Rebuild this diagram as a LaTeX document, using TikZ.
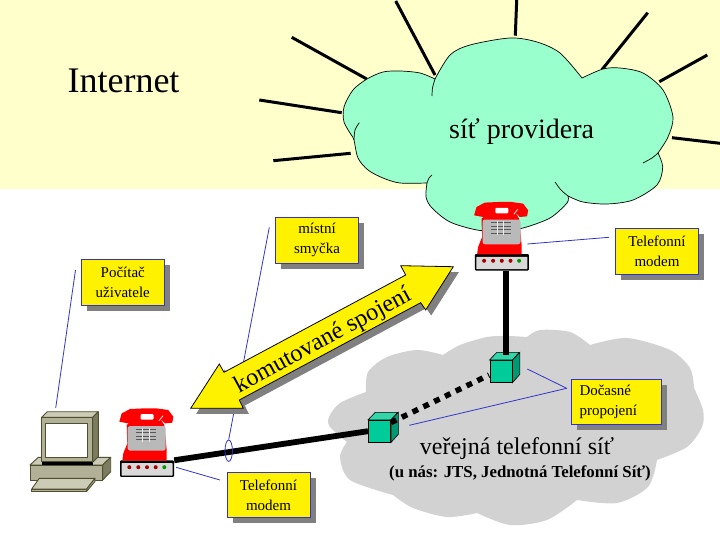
\documentclass[tikz,border=0pt]{standalone}
\usepackage{fontspec}
\setmainfont{Liberation Serif}
\usetikzlibrary{shapes.geometric,shadows}

\definecolor{skypale}{HTML}{FFFFCC}
\definecolor{provmint}{HTML}{99FFCC}
\definecolor{netgray}{HTML}{D2D2D2}
\definecolor{noteblue}{HTML}{3333CC}
\definecolor{shadegray}{HTML}{808080}
\definecolor{cubefront}{HTML}{00CC99}
\definecolor{cubetop}{HTML}{33D6A8}
\definecolor{cubeside}{HTML}{009973}
\definecolor{pcbody}{HTML}{B2B096}
\definecolor{pclight}{HTML}{CCCCB6}
\definecolor{pcside}{HTML}{7C7C60}
\definecolor{pcline}{HTML}{4F4F30}

\tikzset{
  ray/.style={line width=3pt},
  provcloud/.style={draw=black,line width=0.7pt,fill=provmint},
  hookline/.style={draw=black,line width=0.7pt},
  netcloud/.style={fill=netgray},
  cable/.style={line width=5.8pt},
  dotcable/.style={line width=5.5pt,dash pattern=on 6pt off 6pt},
  leader/.style={draw=noteblue,line width=0.8pt},
  notebox/.style={draw=noteblue,line width=0.9pt,fill=yellow,minimum width=83pt,
    minimum height=45.5pt,inner sep=0pt,align=center,font=\fontsize{15}{20}\selectfont,
    drop shadow={shadow xshift=5.5pt,shadow yshift=-5.5pt,opacity=1,fill=shadegray}},
  bigarrow/.style={draw=black,line width=0.8pt,fill=yellow,
    drop shadow={shadow xshift=5.5pt,shadow yshift=-5.5pt,opacity=1,fill=shadegray}},
  cubebox/.style={draw=black,line width=0.6pt,fill=cubefront,minimum width=22.4pt,
    minimum height=22pt,inner sep=0pt},
  modembox/.style={fill=black,rounded corners=1pt,minimum width=54pt,minimum height=16.5pt,inner sep=0pt},
  pcpart/.style={draw=pcline,line width=0.9pt,line join=round},
  telphone/.pic={
    \fill[red] (-27.7,-47) -- (-25.3,-55.3) -- (-17,-59.7) -- (-3.7,-60.3) -- (9.7,-60.3)
      -- (21.3,-58.7) -- (26.3,-52) -- (25.3,-46) -- (18,-45.3) -- (13,-50.3) -- (17.3,-43.7)
      -- (19.7,-18.7) -- (19.7,-8) -- (-24.7,-8) -- (-23.7,-15.3) -- (-19.7,-25.3) -- (-20.3,-43.7)
      -- (-13.7,-48.7) -- (-18.7,-45.3) -- cycle;
    \fill[white,rounded corners=1pt] (-6.5,-54.5) rectangle (6.5,-49);
    \draw[white,line width=0.7pt] (12,-48) -- (16,-53);
    \fill[gray!55,rounded corners=2.5pt] (-19.3,-42.7) rectangle (18.7,-18);
    \foreach \rowy in {-39.5,-36,-32.5,-29}
      \draw[black!65,line width=1.3pt] (-11,\rowy) -- (8.7,\rowy);
    \foreach \colx in {-4.5,2}
      \draw[white!85!gray,line width=0.8pt] (\colx,-41) -- (\colx,-27);
    \fill[gray!30,rounded corners=0.5pt] (-25.5,-5.5) rectangle (25.5,6.8);
    \foreach \ledx in {-17.7,-8.7,0,8.7}
      \fill[red!65!black] (\ledx,-1.5) circle (2pt);
    \fill[green!60!black] (17.3,-1.5) circle (2pt);
  }
}

\newcommand{\cubefaces}[1]{
  \filldraw[fill=cubetop,draw=black,line width=0.6pt] (#1.north west) -- ++(7.3,-7.6) -- ++(22.4,0) -- (#1.north east) -- cycle;
  \filldraw[fill=cubeside,draw=black,line width=0.6pt] (#1.north east) -- ++(7.3,-7.6) -- ++(0,22) -- (#1.south east) -- cycle;
}

\begin{document}
\begin{tikzpicture}[x=1pt,y=-1pt]

  \fill[white] (0,0) rectangle (720,540);
  \useasboundingbox (0,0) rectangle (720,540);
  \fill[skypale] (0,0) rectangle (720,189);

  \node[font=\fontsize{36}{36}\selectfont] (inet) at (123.5,81) {Internet};

  % rays round the provider
  \coordinate (r1a) at (395.7,1);     \coordinate (r1b) at (435,75);
  \coordinate (r2a) at (291.7,37.3);  \coordinate (r2b) at (366.7,79);
  \coordinate (r3a) at (259.3,100);   \coordinate (r3b) at (341.7,112.7);
  \coordinate (r4a) at (273.3,160.7); \coordinate (r4b) at (350.7,153.3);
  \coordinate (r5a) at (516.7,0);     \coordinate (r5b) at (515.3,35.7);
  \coordinate (r6a) at (647.7,12.7);  \coordinate (r6b) at (601.7,70);
  \coordinate (r7a) at (707.3,55);    \coordinate (r7b) at (659.3,81.7);
  \coordinate (r8a) at (672,137.7);   \coordinate (r8b) at (720,143.3);

  \draw[ray] (r1a) -- (r1b);
  \draw[ray] (r2a) -- (r2b);
  \draw[ray] (r3a) -- (r3b);
  \draw[ray] (r4a) -- (r4b);
  \draw[ray] (r5a) -- (r5b);
  \draw[ray] (r6a) -- (r6b);
  \draw[ray] (r7a) -- (r7b);
  \draw[ray] (r8a) -- (r8b);

  \path[provcloud]
    plot[smooth] coordinates {(352,136) (344,122) (344,107) (353,90) (367,79) (383,72) (400,71) (420,73) (435,79)}
    -- plot[smooth] coordinates {(435,79) (450,55) (470,45) (510,38) (537,42) (560,53) (582,78)}
    -- plot[smooth] coordinates {(582,78) (603,69) (620,68) (643,73) (663,90) (673,117) (668,137) (658,153)}
    -- plot[smooth] coordinates {(658,153) (662.7,167) (657,185) (633,200) (607,204) (583,202) (568,196)}
    -- plot[smooth] coordinates {(568,196) (567,203) (550,218) (523,228) (500,231) (477,230) (450,222) (432,208) (426,197) (427,183)}
    -- plot[smooth] coordinates {(427,183) (400,183) (383,178) (368,170) (358,158) (354,140) (352,136)}
    -- cycle;
  \draw[hookline] plot[smooth] coordinates {(435,79) (432.5,88) (432,96)};
  \draw[hookline] plot[smooth] coordinates {(658,153) (652,158) (643,163)};
  \draw[hookline] plot[smooth] coordinates {(568,196) (561,190) (555,182)};
  \draw[hookline] plot[smooth] coordinates {(427,183) (429,178) (432,175)};
  \draw[hookline] plot[smooth] coordinates {(354,140) (355,130) (359.3,122.7)};

  \node[font=\fontsize{28}{28}\selectfont] (prov) at (521.7,132) {síť providera};

  \path[netcloud]
    plot[smooth] coordinates {(347,442) (330,427) (329,417) (340,403) (366,392)}
    -- plot[smooth] coordinates {(366,392) (368,372) (387,357) (417,350) (443,355)}
    -- plot[smooth] coordinates {(443,355) (460,345) (487,337) (507,336) (527,337)}
    -- plot[smooth] coordinates {(527,337) (540,330) (570,332) (590,345)}
    -- plot[smooth] coordinates {(590,345) (627,338) (670,350) (690,368) (694,388)}
    -- plot[smooth] coordinates {(694,388) (703,410) (702,427) (687,447) (657,460)}
    -- plot[smooth] coordinates {(657,460) (648,487) (617,503) (577,500)}
    -- plot[smooth] coordinates {(577,500) (547,520) (510,525) (477,513)}
    -- plot[smooth] coordinates {(477,513) (447,517) (413,508) (393,495)}
    -- plot[smooth] coordinates {(393,495) (350,480) (340,457) (347,442)}
    -- cycle;

  \node[font=\fontsize{24}{24}\selectfont] (pubnet) at (517,449) {veřejná telefonní síť};
  \node[font=\bfseries\fontsize{16.8}{16.8}\selectfont] (pubnote) at (520,473) {(u nás: JTS, Jednotná Telefonní Síť)};

  % switches
  \node[cubebox] (swA) at (379.5,431.2) {};
  \cubefaces{swA}
  \node[cubebox] (swB) at (501,371.3) {};
  \cubefaces{swB}

  % computer
  \filldraw[pcpart,fill=pclight] (30,465) -- (38.3,457.3) -- (110.7,457.3) -- (102.7,465) -- cycle;
  \filldraw[pcpart,fill=pcside] (102.7,465) -- (110.7,457.3) -- (110.7,471.7) -- (102.7,480) -- cycle;
  \filldraw[pcpart,fill=pcbody] (30,465) rectangle (102.7,480);
  \fill[black] (41.7,461.7) rectangle (93,464.5);
  \filldraw[pcpart,fill=pclight] (41.7,417.3) -- (47.3,411.7) -- (98.3,411.7) -- (92.7,417.3) -- cycle;
  \filldraw[pcpart,fill=pcside] (92.7,417.3) -- (98.3,411.7) -- (98.3,456.7) -- (92.7,462.3) -- cycle;
  \filldraw[pcpart,fill=pcbody] (41.7,417.3) rectangle (92.7,461.7);
  \node[draw=pcline,line width=0.9pt,fill=white,minimum width=42pt,minimum height=34pt,inner sep=0pt] (screen) at (66.7,440.3) {};
  \filldraw[pcpart,fill=pclight] (39.3,478.3) -- (95,478.3) -- (86.7,489) -- (31.7,489) -- cycle;
  \filldraw[pcpart,fill=pcbody] (31.7,489) rectangle (86.7,491.3);
  \filldraw[pcpart,fill=pcbody] (86.7,489) -- (95,478.3) -- (95,481.5) -- (86.7,491.3) -- cycle;

  % phones on modems
  \node[modembox] (modemA) at (147,468.7) {};
  \pic at (modemA) {telphone};
  \node[modembox] (modemB) at (501.8,262.3) {};
  \pic at (modemB) {telphone};

  \coordinate (dotA) at (391,422.5);
  \coordinate (dotB) at (489,375);
  \coordinate (swBtop) at (506,355);

  \draw[cable] (modemA.north east) -- (swA.west);
  \draw[cable] (modemB.south -| swBtop) -- (swBtop);
  \draw[dotcable] (dotA) -- (dotB);

  % notes
  \node[notebox] (pcnote) at (122.8,282.3) {Počítač\\uživatele};
  \node[notebox] (loopnote) at (317,240.3) {místní\\smyčka};
  \node[notebox] (modemnoteB) at (657,251.5) {Telefonní\\modem};
  \node[notebox] (modemnoteA) at (268.5,494.8) {Telefonní\\modem};
  \node[notebox,minimum width=90.4pt,text width=74pt,align=left] (tempnote) at (616.5,401.8) {Dočasné\\propojení};

  \node[ellipse,draw=noteblue,line width=0.8pt,minimum width=7.4pt,minimum height=21.4pt,inner sep=0pt] (loopring) at (228.7,450.7) {};

  \coordinate (pcA) at (75.5,270);    \coordinate (pcB) at (55.7,408);
  \coordinate (loopA) at (269.3,227.3);
  \coordinate (mdBa) at (609,237.3);  \coordinate (mdBb) at (527.3,244);
  \coordinate (mdAa) at (220,480);    \coordinate (mdAb) at (176,467.3);
  \coordinate (tmpA) at (566.7,388.3);
  \coordinate (tmpB) at (527.3,369);
  \coordinate (tmpC) at (409.3,425.3);

  \draw[leader] (pcA) -- (pcB);
  \draw[leader] (loopA) -- (loopring.north);
  \draw[leader] (mdBa) -- (mdBb);
  \draw[leader] (mdAa) -- (mdAb);
  \draw[leader] (tmpA) -- (tmpB);
  \draw[leader] (tmpA) -- (tmpC);

  % the switched connection
  \path[bigarrow] (190.7,408.3) -- (219.3,364) -- (224,372.3) -- (405.7,275) -- (400.7,265.7)
    -- (453.3,266.7) -- (425.7,310) -- (420.7,302.7) -- (239.3,400) -- (243.3,408.3) -- cycle;
  \node[rotate=28.5,font=\fontsize{24.4}{24.4}\selectfont] (switched) at (323,341) {komutované spojení};

\end{tikzpicture}
\end{document}
